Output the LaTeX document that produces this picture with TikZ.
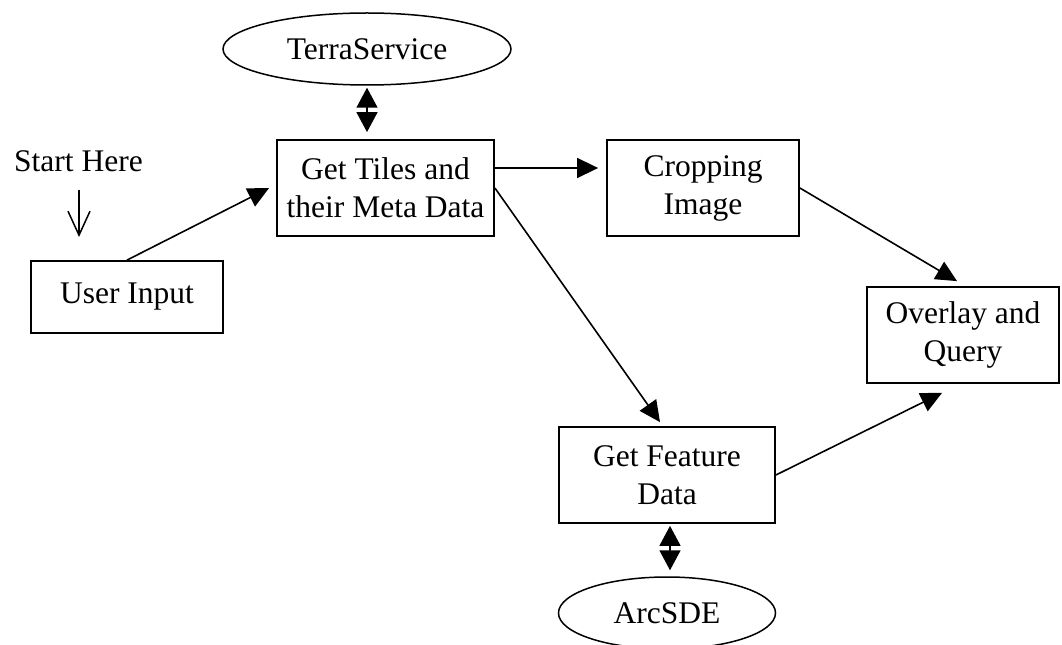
\documentclass[tikz,border=0pt]{standalone}
\usepackage{fontspec}
\setmainfont{Liberation Serif}
\usetikzlibrary{arrows.meta,shapes.geometric}
\newcommand{\diagfont}{\fontsize{31.5bp}{38bp}\selectfont}
\begin{document}
\begin{tikzpicture}[x=1bp,y=-1bp,
  box/.style={draw,line width=1.8bp,rectangle,inner sep=0pt,align=center,font=\diagfont},
  oval/.style={draw,line width=1.5bp,ellipse,inner sep=0pt,font=\diagfont},
  conn/.style={line width=1.6bp,-{Triangle[length=21bp,width=20bp]}},
  both/.style={line width=1.6bp,{Triangle[length=20bp,width=21bp]}-{Triangle[length=20bp,width=21bp]}},
  barb/.style={line width=1.5bp,-{Straight Barb[length=24bp,width=22bp]}}
]
\useasboundingbox (0,0) rectangle (1062,645);

\node[box,minimum width=192bp,minimum height=72bp] (ui) at (127,297) {User Input};
\node[box,minimum width=217bp,minimum height=96bp] (tiles) at (385.5,188) {Get Tiles and\\their Meta Data};
\node[box,minimum width=192bp,minimum height=96bp] (crop) at (703,188) {Cropping\\Image};
\node[box,minimum width=192bp,minimum height=96bp] (overlay) at (963,335) {Overlay and\\Query};
\node[box,minimum width=216bp,minimum height=96bp] (feature) at (667,475) {Get Feature\\Data};
\node[oval,minimum width=288bp,minimum height=72bp] (terra) at (367,49) {TerraService};
\node[oval,minimum width=217bp,minimum height=72bp] (arc) at (667,613) {ArcSDE};
\node[font=\diagfont,inner sep=0pt,anchor=base] (start) at (78.5,172) {Start Here};
\coordinate (sh) at (79,237);

\draw[barb,shorten <=17bp] (start.south -| sh) -- (sh);
\draw[conn] (ui.north) -- ([xshift=-7bp]tiles.west);
\draw[conn] ([yshift=20bp]tiles.east) -- ([xshift=-8bp,yshift=20bp]crop.west);
\draw[conn] (tiles.east) -- ([xshift=-7bp,yshift=4bp]feature.north);
\draw[conn] (crop.east) -- ([xshift=-6bp,yshift=5bp]overlay.north);
\draw[conn] (feature.east) -- ([xshift=-21bp,yshift=-9bp]overlay.south);
\draw[both,shorten <=2bp,shorten >=7bp] (terra.south) -- (terra.south |- tiles.north);
\draw[both,shorten <=2bp,shorten >=6bp] ([xshift=3bp]feature.south) -- ([xshift=3bp]arc.north);
\end{tikzpicture}
\end{document}
